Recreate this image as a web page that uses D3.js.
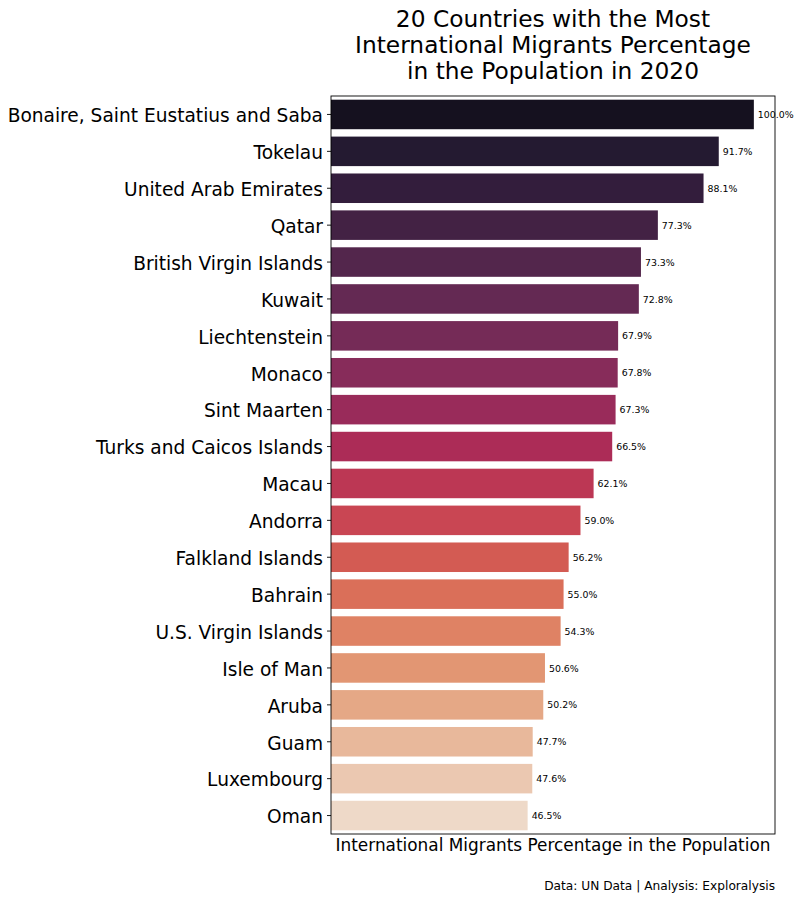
<!DOCTYPE html>
<html>
<head>
<meta charset="utf-8">
<script src="https://cdn.jsdelivr.net/npm/d3@7"></script>
<style>
  body { margin: 0; background: #fff; }
  text { font-family: "DejaVu Sans", sans-serif; }
</style>
</head>
<body>
<div id="chart-area"></div>
<script>
const countries = [
  "Bonaire, Saint Eustatius and Saba", "Tokelau", "United Arab Emirates", "Qatar",
  "British Virgin Islands", "Kuwait", "Liechtenstein", "Monaco", "Sint Maarten",
  "Turks and Caicos Islands", "Macau", "Andorra", "Falkland Islands", "Bahrain",
  "U.S. Virgin Islands", "Isle of Man", "Aruba", "Guam", "Luxembourg", "Oman"
];
const percents = [
  100.0, 91.7, 88.1, 77.3, 73.3, 72.8, 67.9, 67.8, 67.3, 66.5,
  62.1, 59.0, 56.2, 55.0, 54.3, 50.6, 50.2, 47.7, 47.6, 46.5
];
const titleLines = [
  "20 Countries with the Most",
  "International Migrants Percentage",
  "in the Population in 2020"
];
const xLabel = "International Migrants Percentage in the Population";
const footer = "Data: UN Data | Analysis: Exploralysis";

// rocket palette (desaturated)
const colors = [
  "#15111f", "#241a31", "#331d3c", "#432244", "#53264c", "#642953",
  "#752b57", "#872c5a", "#992b5a", "#ac2c57", "#bc3754", "#c94653",
  "#d35b53", "#da6f59", "#df8264", "#e29673", "#e5a886", "#e8b89b",
  "#ebc8b1", "#eed9c8"
];

const data = countries.map((c, i) => ({ country: c, value: percents[i], color: colors[i] }));

const margin = { top: 96, right: 25, bottom: 66, left: 331 };
const width = 800 - margin.left - margin.right;
const height = 900 - margin.top - margin.bottom;

const svg = d3.select("#chart-area")
  .append("svg")
  .attr("width", 800)
  .attr("height", 900);

const g = svg.append("g")
  .attr("transform", `translate(${margin.left}, ${margin.top})`);

const x = d3.scaleLinear()
  .domain([0, 105])
  .range([0, width]);

const y = d3.scaleBand()
  .domain(countries)
  .range([0, height])
  .paddingInner(0.2)
  .paddingOuter(0.1);

g.selectAll("rect.bar")
  .data(data)
  .enter()
  .append("rect")
  .attr("class", "bar")
  .attr("x", x(0))
  .attr("y", d => y(d.country))
  .attr("width", d => x(d.value) - x(0))
  .attr("height", y.bandwidth())
  .attr("fill", d => d.color);

g.selectAll("text.val")
  .data(data)
  .enter()
  .append("text")
  .attr("class", "val")
  .attr("x", d => x(d.value) + 4)
  .attr("y", d => y(d.country) + y.bandwidth() / 2)
  .attr("dy", "0.38em")
  .attr("font-size", "9.4px")
  .attr("fill", "#000")
  .text(d => d.value.toFixed(1) + "%");

const yAxis = d3.axisLeft(y).tickSize(4).tickPadding(4);
const yg = g.append("g").call(yAxis);
yg.select(".domain").remove();
yg.selectAll("text")
  .attr("font-family", "DejaVu Sans, sans-serif")
  .attr("font-size", "18.6px")
  .attr("dy", "0.42em")
  .attr("fill", "#000");
yg.selectAll("line").attr("stroke", "#000").attr("stroke-width", 0.9);

// axes frame
g.append("rect")
  .attr("width", width)
  .attr("height", height)
  .attr("fill", "none")
  .attr("stroke", "#000")
  .attr("stroke-width", 0.9);

svg.append("text")
  .attr("x", margin.left + width / 2)
  .attr("y", 27)
  .attr("text-anchor", "middle")
  .attr("font-size", "23.3px")
  .selectAll("tspan")
  .data(titleLines)
  .enter()
  .append("tspan")
  .attr("x", margin.left + width / 2)
  .attr("dy", (d, i) => i === 0 ? 0 : 26)
  .text(d => d);

svg.append("text")
  .attr("x", margin.left + width / 2)
  .attr("y", 851)
  .attr("text-anchor", "middle")
  .attr("font-size", "16.9px")
  .text(xLabel);

svg.append("text")
  .attr("x", 775)
  .attr("y", 890)
  .attr("text-anchor", "end")
  .attr("font-size", "12.2px")
  .text(footer);
</script>
</body>
</html>
